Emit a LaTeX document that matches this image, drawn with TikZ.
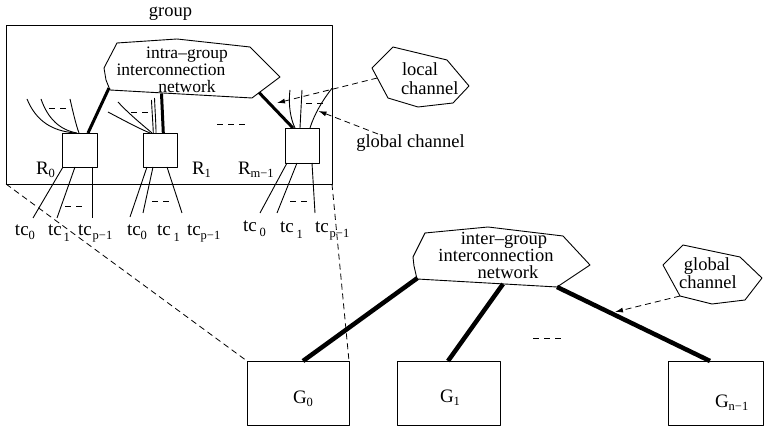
\documentclass[tikz,border=0pt]{standalone}
\usepackage{fontspec}
\setmainfont{Liberation Serif}
\usetikzlibrary{arrows.meta,calc}
% lowered, smaller subscript
\newcommand\sbs[2][4pt]{\raisebox{-#1}{\fontsize{12.5}{12.5}\selectfont #2}}
\begin{document}
\begin{tikzpicture}[x=1pt,y=-1pt,line join=round,
  txt/.style={font=\fontsize{18.5}{18.5}\selectfont,inner sep=0pt,outer sep=0pt},
  ctxt/.style={font=\fontsize{17.5}{17.5}\selectfont,inner sep=0pt,outer sep=0pt},
  lbl/.style={font=\fontsize{19}{19}\selectfont,inner sep=0pt,outer sep=0pt,anchor=base west},
  box/.style={draw,line width=0.9pt,inner sep=0pt,outer sep=0pt},
  wire/.style={line width=0.9pt},
  fat/.style={line width=3pt},
  fatter/.style={line width=4.5pt},
  ellip/.style={line width=0.9pt,dash pattern=on 6pt off 5pt},
  link/.style={line width=0.8pt,dash pattern=on 6pt off 4pt},
  pointer/.style={link,-{Latex[length=8pt,width=5pt]}},
  cloudline/.style={draw,line width=0.9pt}]
\useasboundingbox (0,0) rectangle (764,427);

% ---------- one group ----------
\node[box,minimum width=326pt,minimum height=159pt,anchor=north west] (grp) at (6,25) {};
\node[txt,anchor=base] (grplbl) at (170.5,17) {group};

% intra-group network
\draw[cloudline] (117,43) -- (177,39) -- (250,47) -- (280,77) -- (252,98)
  -- (110,90) -- (106,80) -- (104,68) -- cycle;
\node[ctxt,anchor=base] (intra1) at (187,59) {intra–group};
\node[ctxt,anchor=base] (intra2) at (171,76) {interconnection};
\node[ctxt,anchor=base] (intra3) at (187,93) {network};
\coordinate (ia) at (109,88);
\coordinate (ib) at (161.5,93.5);
\coordinate (ic) at (259,92.5);

% routers
\node[box,minimum width=35pt,minimum height=34pt] (r0) at (79.5,150) {};
\node[box,minimum width=34pt,minimum height=34pt] (r1) at (160,150) {};
\node[box,minimum width=34pt,minimum height=35pt] (rm) at (302,145.5) {};
\node[lbl] (r0lbl) at (36,175) {R\sbs[3pt]{0}};
\node[lbl] (r1lbl) at (192,175) {R\sbs[3pt]{1}};
\node[lbl] (rmlbl) at (238,175) {R\sbs[3pt]{m−1}};

% local links to the intra-group network
\draw[fat] (ia) -- ([xshift=8.5pt]r0.north);
\draw[fat] (ib) -- ([xshift=3.3pt]r1.north);
\draw[fat] (ic) -- ([xshift=-9pt]rm.north);

% global links leaving R0
\coordinate (r0u1) at (27,99);
\coordinate (r0u2) at (41,99);
\coordinate (r0u3) at (70,99);
\draw[wire] (r0u1) .. controls (36,121) and (52,131) .. ([xshift=-4.5pt]r0.north);
\draw[wire] (r0u2) .. controls (48,119) and (60,130) .. ([xshift=-2.5pt]r0.north);
\draw[wire] (r0u3) .. controls (73,112) and (76,125) .. ([xshift=-0.5pt]r0.north);
\draw[ellip] (49,108) -- (67,108);

% global links leaving R1
\coordinate (r1u1) at (108,112);
\coordinate (r1u2) at (118,102);
\coordinate (r1u3) at (151.5,100);
\coordinate (r1u4) at (154.5,98);
\draw[wire] (r1u1) .. controls (125,121) and (140,129) .. ([xshift=-10pt]r1.north);
\draw[wire] (r1u2) .. controls (130,115) and (145,127) .. ([xshift=-8pt]r1.north);
\draw[wire] (r1u3) .. controls (152,112) and (153,124) .. ([xshift=-6.7pt]r1.north);
\draw[wire] (r1u4) .. controls (155,110) and (156,124) .. ([xshift=-4pt]r1.north);
\draw[ellip] (131,112) -- (148,112);

% global links leaving R(m-1)
\coordinate (rmu1) at (290,90);
\coordinate (rmu2) at (302,90);
\coordinate (rmu3) at (332,88.3);
\draw[wire] (rmu1) .. controls (288,106) and (291,120) .. ([xshift=-7pt]rm.north);
\draw[wire] (rmu2) -- ([xshift=-2pt]rm.north);
\draw[wire] (rmu3) .. controls (322,101) and (314,115) .. ([xshift=8pt]rm.north);
\draw[ellip] (306,103) -- (323,103);

\draw[ellip] (217,124) -- (245,124);

% terminals of R0
\coordinate (t00) at (33,218);
\coordinate (t01) at (57,218);
\coordinate (t02) at (92,218);
\draw[wire] ([xshift=-16.5pt]r0.south) -- (t00);
\draw[wire] ([xshift=-4.5pt]r0.south) -- (t01);
\draw[wire] ([xshift=12.5pt]r0.south) -- (t02);
\draw[ellip] (65,206) -- (83,206);
\node[lbl] (tc00) at (15,236) {tc\sbs{0}};
\node[lbl] (tc01) at (48,236) {tc\hspace{2pt}\sbs[6pt]{1}};
\node[lbl] (tc02) at (78,236) {tc\hspace{1pt}\sbs{p−1}};

% terminals of R1
\coordinate (t10) at (130,217);
\coordinate (t11) at (143,213);
\coordinate (t12) at (182,213);
\draw[wire] ([xshift=-13pt]r1.south) -- (t10);
\draw[wire] ([xshift=-7pt]r1.south) -- (t11);
\draw[wire] ([xshift=7pt]r1.south) -- (t12);
\draw[ellip] (152,201) -- (170,201);
\node[lbl] (tc10) at (127,236) {tc\sbs{0}};
\node[lbl] (tc11) at (157,236) {tc\hspace{3pt}\sbs[6pt]{1}};
\node[lbl] (tc12) at (187,236) {tc\sbs{p−1}};

% terminals of R(m-1)
\coordinate (tm0) at (260,213);
\coordinate (tm1) at (277,213);
\coordinate (tm2) at (315,213);
\draw[wire] ([xshift=-15pt]rm.south) -- (tm0);
\draw[wire] ([xshift=-5pt]rm.south) -- (tm1);
\draw[wire] ([xshift=10pt]rm.south) -- (tm2);
\draw[ellip] (290,201) -- (307,201);
\node[lbl] (tcm0) at (243,232) {tc\hspace{3pt}\sbs[5pt]{0}};
\node[lbl] (tcm1) at (280,233) {tc\hspace{3pt}\sbs[6pt]{1}};
\node[lbl] (tcm2) at (315,233) {tc\hspace{1pt}\sbs[5pt]{p−1}};

% channel callouts
\draw[cloudline] (372,68) -- (393,47) -- (447,60) -- (469,86) -- (453,103)
  -- (418,107) -- (388,98) -- cycle;
\node[txt,anchor=base west] (loc1) at (402,76) {local};
\node[txt,anchor=base west] (loc2) at (401,95) {channel};
\coordinate (lcs) at (377.3,78);
\coordinate (lct) at (277,103);
\draw[pointer] (lcs) -- (lct);

\node[txt,anchor=base] (gclbl) at (410.5,148) {global channel};
\coordinate (gcs) at (378,134);
\coordinate (gct) at (318.5,111);
\draw[pointer] (gcs) -- (gct);

% ---------- the groups ----------
\node[box,minimum width=102pt,minimum height=64pt] (g0) at (298,393) {};
\node[box,minimum width=103pt,minimum height=64pt] (g1) at (448.5,393) {};
\node[box,minimum width=95pt,minimum height=64pt] (gn) at (715.5,393) {};
\node[lbl] (g0lbl) at (293,404) {G\sbs[3pt]{0}};
\node[lbl] (g1lbl) at (440,403) {G\sbs[3pt]{1}};
\node[lbl] (gnlbl) at (715,408) {G\sbs[3pt]{n−1}};

% zoom lines from the group to G0
\draw[link] (grp.south west) -- (g0.north west);
\draw[link] (grp.south east) -- (g0.north east);

% inter-group network
\draw[cloudline] (425,233) -- (488,227) -- (563,236) -- (590,265) -- (557,287)
  -- (417,279) -- (414,266) -- (413,257) -- cycle;
\node[txt,anchor=base] (inter1) at (504,245) {inter–group};
\node[txt,anchor=base] (inter2) at (496,262) {interconnection};
\node[txt,anchor=base] (inter3) at (508,279) {network};
\coordinate (na) at (417.5,278);
\coordinate (nb) at (503,284);
\coordinate (nc) at (557,287);
\draw[fatter] (na) -- ([xshift=5pt]g0.north);
\draw[fatter] (nb) -- ([xshift=-0.5pt]g1.north);
\draw[fatter] (nc) -- ([xshift=-5.5pt]gn.north);
\draw[ellip] (533,338) -- (562,338);

\draw[cloudline] (663,265) -- (683,245) -- (740,257) -- (762,278) -- (745,300)
  -- (712,304) -- (680,296) -- cycle;
\node[txt,anchor=base] (glob1) at (707,271) {global};
\node[txt,anchor=base] (glob2) at (708,289) {channel};
\coordinate (ggs) at (680,296);
\coordinate (ggt) at (615,312);
\draw[pointer] (ggs) -- (ggt);
\end{tikzpicture}
\end{document}
